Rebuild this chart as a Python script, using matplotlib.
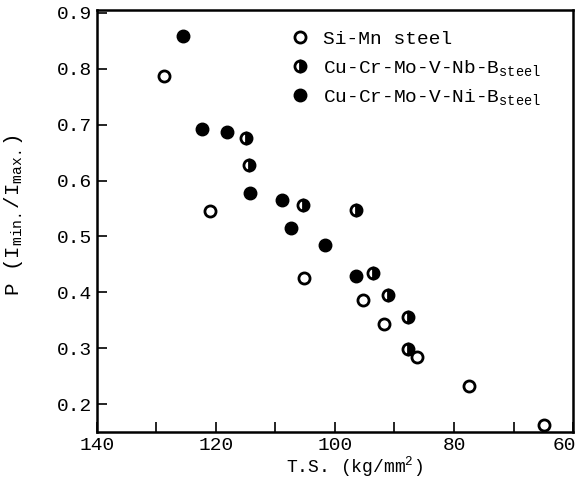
import matplotlib
matplotlib.use('Agg')
import matplotlib.pyplot as plt
import matplotlib.transforms as mtransforms

plt.rcParams['font.family'] = ['Liberation Mono', 'DejaVu Sans Mono']
plt.rcParams['mathtext.fontset'] = 'custom'
plt.rcParams['mathtext.rm'] = 'Liberation Mono'
plt.rcParams['mathtext.it'] = 'Liberation Mono'
plt.rcParams['mathtext.tt'] = 'Liberation Mono'

# Si-Mn steel (open circles)
simn_ts = [128.7, 121.0, 105.2, 95.3, 91.8, 86.3, 77.5, 64.9]
simn_p = [0.787, 0.545, 0.426, 0.386, 0.343, 0.284, 0.233, 0.163]

# Cu-Cr-Mo-V-Nb-B steel (half-filled circles)
nb_ts = [115.0, 114.4, 105.3, 96.5, 93.6, 91.1, 87.7, 87.7]
nb_p = [0.676, 0.627, 0.557, 0.548, 0.435, 0.395, 0.355, 0.298]

# Cu-Cr-Mo-V-Ni-B steel (filled circles)
ni_ts = [125.5, 122.4, 118.1, 114.3, 108.9, 107.4, 101.7, 96.4]
ni_p = [0.858, 0.693, 0.686, 0.577, 0.566, 0.515, 0.484, 0.430]

fig = plt.figure(figsize=(5.83, 4.79), dpi=100)
ax = fig.add_axes([0.166, 0.098, 0.817, 0.881])

ax.plot(simn_ts, simn_p, 'o', ms=8, mfc='white', mec='black', mew=2,
        label='Si-Mn steel')
ax.plot(nb_ts, nb_p, 'o', ms=8, fillstyle='right', mfc='black',
        mfcalt='white', mec='black', mew=2,
        label=r'Cu-Cr-Mo-V-Nb-B$_{\rm steel}$')
ax.plot(ni_ts, ni_p, 'o', ms=9, mfc='black', mec='black',
        label=r'Cu-Cr-Mo-V-Ni-B$_{\rm steel}$')

ax.set_xlim(140, 60)
ax.set_ylim(0.15, 0.905)
ax.set_xticks([140, 120, 100, 80, 60])
ax.set_xticks([130, 110, 90, 70], minor=True)
ax.set_yticks([0.2, 0.3, 0.4, 0.5, 0.6, 0.7, 0.8, 0.9])
ax.tick_params(direction='in', labelsize=14, length=7, width=1.2)
ax.tick_params(which='minor', direction='in', length=7, width=1.2)
for s in ax.spines.values():
    s.set_linewidth(1.8)

# nudge the last x label inward so it stays in the picture
lbl = ax.get_xticklabels()[-1]
lbl.set_transform(lbl.get_transform() +
                  mtransforms.ScaledTranslation(-6 / 72, 0, fig.dpi_scale_trans))

ax.set_xlabel(r'T.S. (kg/mm$^2$)', fontsize=13)
ax.xaxis.set_label_coords(0.54, -0.052)
ax.set_ylabel(r'P (I$_{\rm min.}$/I$_{\rm max.}$)', fontsize=15)
ax.yaxis.set_label_coords(-0.151, 0.514)

ax.legend(loc='upper left', bbox_to_anchor=(0.363, 1.0), frameon=False,
          fontsize=14, handletextpad=0.67, labelspacing=0.49,
          borderaxespad=0.65, handlelength=1)

fig.savefig('out.png', dpi=100)
